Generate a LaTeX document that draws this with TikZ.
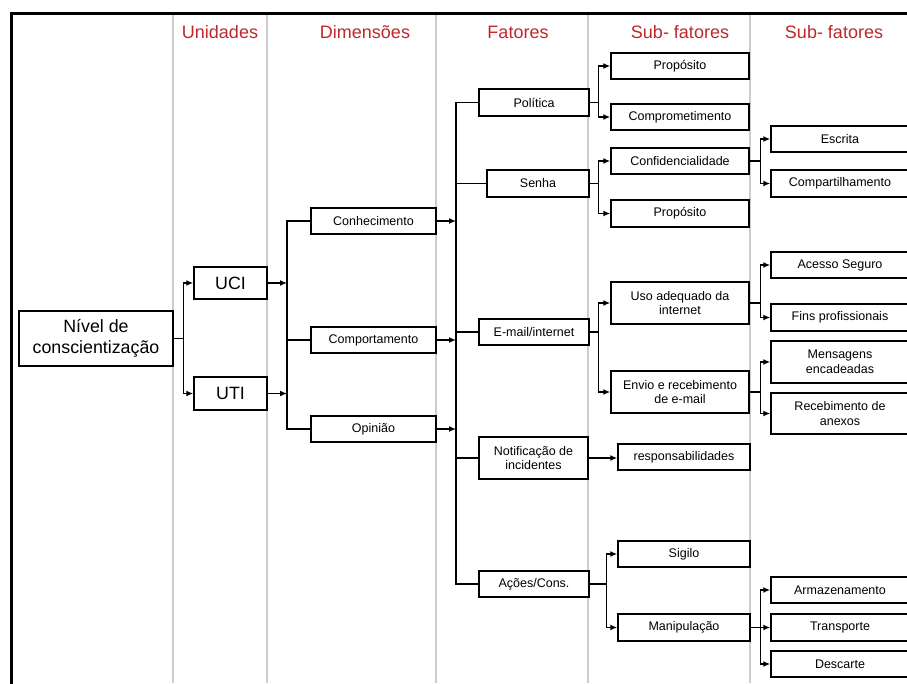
\documentclass[tikz,border=0pt]{standalone}
\usepackage{fontspec}
\setmainfont{Liberation Sans}
\usetikzlibrary{arrows.meta}
\definecolor{hdrred}{RGB}{192,39,45}
\definecolor{colgray}{RGB}{205,205,205}
\tikzset{
  box/.style={draw=black, line width=1.5pt, fill=white, rectangle, inner sep=0pt, align=center, font=\fontsize{12.5}{14.5}\selectfont},
  bigbox/.style={box, font=\fontsize{17.8}{21}\selectfont},
  hdr/.style={text=hdrred, font=\fontsize{18}{20}\selectfont, inner sep=0pt},
  ln/.style={draw=black, line width=1.4pt},
  arr/.style={ln, -{Latex[length=7pt,width=6pt]}},
  gl/.style={draw=colgray, line width=1.5pt},
}
\begin{document}
\begin{tikzpicture}[x=1pt,y=-1pt]
\useasboundingbox (0,0) rectangle (907,683);
\fill[white] (0,0) rectangle (907,683);
% column lines
\foreach \xx in {173,267,436,588,750} \draw[gl] (\xx,13) -- (\xx,683);
% frame
\draw[line width=3pt] (11,690) -- (11,13) -- (915,13);
% headers
\node[hdr] (h1) at (220,32) {Unidades};
\node[hdr] (h2) at (365,32) {Dimensões};
\node[hdr] (h3) at (518,32) {Fatores};
\node[hdr] (h4) at (680,32) {Sub- fatores};
\node[hdr] (h5) at (834,32) {Sub- fatores};
% junction x-positions
\coordinate (t1) at (287,0);
\coordinate (t2) at (456,0);
% nodes
\node[bigbox, minimum width=154pt, minimum height=55pt] (niv) at (96,338.5) {Nível de\\conscientização};
\node[bigbox, minimum width=73pt, minimum height=32pt] (uci) at (230.5,283) {UCI};
\node[bigbox, minimum width=73pt, minimum height=33pt] (uti) at (230.5,393.5) {UTI};
\node[box, minimum width=125pt, minimum height=26pt] (conh) at (373.5,221) {Conhecimento};
\node[box, minimum width=125pt, minimum height=26pt] (comp) at (373.5,340) {Comportamento};
\node[box, minimum width=125pt, minimum height=26pt] (opin) at (373.5,429) {Opinião};
\node[box, minimum width=110pt, minimum height=27pt] (pol) at (534,102.5) {Política};
\node[box, minimum width=102pt, minimum height=27pt] (senha) at (538,183.5) {Senha};
\node[box, minimum width=110pt, minimum height=26pt] (email) at (534,332) {E-mail/internet};
\node[box, minimum width=109pt, minimum height=42pt] (notif) at (533.5,458) {Notificação de\\incidentes};
\node[box, minimum width=110pt, minimum height=26pt] (acoes) at (534,584) {Ações/Cons.};
\node[box, minimum width=138pt, minimum height=26pt] (prop1) at (680,66) {Propósito};
\node[box, minimum width=138pt, minimum height=26pt] (compr) at (680,117) {Comprometimento};
\node[box, minimum width=138pt, minimum height=26pt] (conf) at (680,161) {Confidencialidade};
\node[box, minimum width=138pt, minimum height=27pt] (prop2) at (680,213.5) {Propósito};
\node[box, minimum width=138pt, minimum height=42pt] (uso) at (680,303) {Uso adequado da\\internet};
\node[box, minimum width=138pt, minimum height=42pt] (envio) at (680,392) {Envio e recebimento\\de e-mail};
\node[box, minimum width=132pt, minimum height=26pt] (resp) at (684,457) {responsabilidades};
\node[box, minimum width=132pt, minimum height=26pt] (sig) at (684,554) {Sigilo};
\node[box, minimum width=132pt, minimum height=27pt] (manip) at (684,627.5) {Manipulação};
\node[box, minimum width=138pt, minimum height=26pt] (escr) at (840,139) {Escrita};
\node[box, minimum width=138pt, minimum height=27pt] (cpt) at (840,183.5) {Compartilhamento};
\node[box, minimum width=138pt, minimum height=26pt] (aces) at (840,265) {Acesso Seguro};
\node[box, minimum width=138pt, minimum height=27pt] (fins) at (840,317.5) {Fins profissionais};
\node[box, minimum width=138pt, minimum height=42pt] (mens) at (840,362) {Mensagens\\encadeadas};
\node[box, minimum width=138pt, minimum height=41pt] (rec) at (840,413.5) {Recebimento de\\anexos};
\node[box, minimum width=138pt, minimum height=26pt] (arm) at (840,590) {Armazenamento};
\node[box, minimum width=138pt, minimum height=27pt] (trans) at (840,627.5) {Transporte};
\node[box, minimum width=138pt, minimum height=26pt] (desc) at (840,664) {Descarte};
% connectors: level -> units
\draw[arr] (niv.east) -- ++(10,0) |- (uci.west);
\draw[arr] (niv.east) -- ++(10,0) |- (uti.west);
% units -> dimension trunk
\draw[arr] (uci.east) -- (uci.east -| t1);
\draw[arr] (uti.east) -- (uti.east -| t1);
\draw[ln] (conh.west) -- (conh.west -| t1) |- (opin.west);
\draw[ln] (comp.west) -- (comp.west -| t1);
% dimensions -> factor trunk
\draw[arr] (conh.east) -- (conh.east -| t2);
\draw[arr] (comp.east) -- (comp.east -| t2);
\draw[arr] (opin.east) -- (opin.east -| t2);
\draw[ln] (pol.west) -- (pol.west -| t2) |- (acoes.west);
\draw[ln] (senha.west) -- (senha.west -| t2);
\draw[ln] (email.west) -- (email.west -| t2);
\draw[ln] (notif.west) -- (notif.west -| t2);
% factors -> sub-factors
\draw[arr] (pol.east) -- ++(9,0) |- (prop1.west);
\draw[arr] (pol.east) -- ++(9,0) |- (compr.west);
\draw[arr] (senha.east) -- ++(9,0) |- (conf.west);
\draw[arr] (senha.east) -- ++(9,0) |- (prop2.west);
\draw[arr] (email.east) -- ++(9,0) |- (uso.west);
\draw[arr] (email.east) -- ++(9,0) |- (envio.west);
\draw[arr] (notif.east) -- (notif.east -| resp.west);
\draw[arr] (acoes.east) -- ++(17,0) |- (sig.west);
\draw[arr] (acoes.east) -- ++(17,0) |- (manip.west);
% sub-factors -> sub-factors
\draw[arr] (conf.east) -- ++(11,0) |- (escr.west);
\draw[arr] (conf.east) -- ++(11,0) |- (cpt.west);
\draw[arr] (uso.east) -- ++(11,0) |- (aces.west);
\draw[arr] (uso.east) -- ++(11,0) |- (fins.west);
\draw[arr] (envio.east) -- ++(11,0) |- (mens.west);
\draw[arr] (envio.east) -- ++(11,0) |- (rec.west);
\draw[arr] (manip.east) -- ++(10,0) |- (arm.west);
\draw[arr] (manip.east) -- ++(10,0) |- (trans.west);
\draw[arr] (manip.east) -- ++(10,0) |- (desc.west);
\end{tikzpicture}
\end{document}
